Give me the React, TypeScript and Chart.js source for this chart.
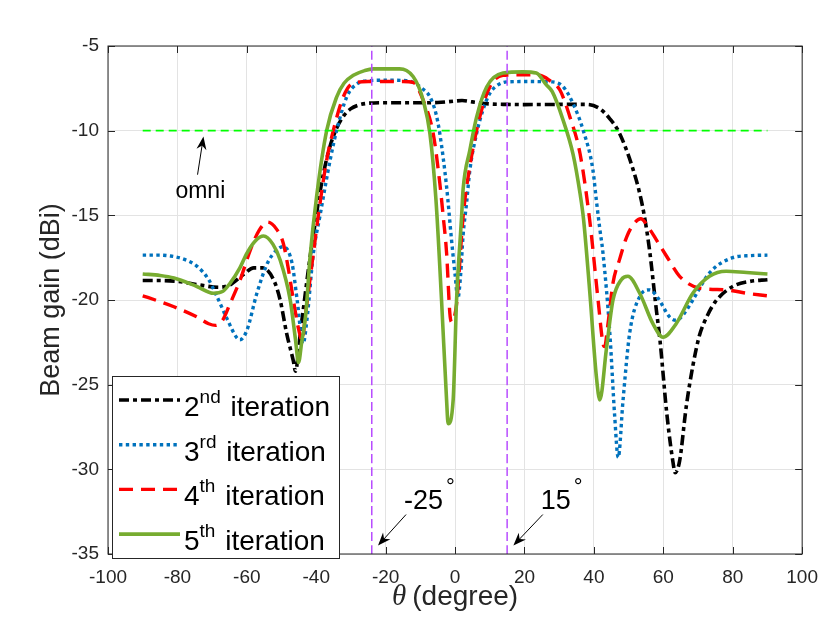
import { useEffect, useRef } from 'react'
import { Chart, ChartConfiguration, Plugin, registerables } from 'chart.js'

Chart.register(...registerables)

// beam gain (dBi) vs theta (degree)
const iter2X = [-90, -85, -80, -74, -68, -64.8, -61, -58, -55.5, -52.3, -50.4, -48.5, -46.6, -46, -44.5, -42, -40, -38, -36, -34, -32, -30, -28, -25, -20, -10, -5, 0, 2, 5, 10, 15, 20, 30, 38, 41.7, 44.6, 47, 49.4, 51.3, 53.2, 54.5, 56, 58, 59, 61, 62.8, 63.4, 64.7, 66.6, 68.5, 70.4, 72.5, 75, 80, 85, 90]
const iter2Y = [-18.85, -18.85, -18.9, -19.1, -19.25, -19.1, -18.5, -18.1, -18.1, -18.8, -20.0, -22.0, -23.6, -24.2, -21.8, -17.8, -15.0, -12.6, -10.9, -9.8, -9.1, -8.7, -8.5, -8.38, -8.35, -8.35, -8.34, -8.25, -8.22, -8.3, -8.42, -8.45, -8.46, -8.45, -8.45, -8.7, -9.3, -10.0, -11.15, -12.3, -13.7, -15.0, -17.0, -20.6, -22.3, -26.7, -29.6, -30.2, -29.5, -26.3, -23.9, -22.1, -21.0, -20.1, -19.2, -18.9, -18.8]

const iter3X = [-90, -85, -82, -78, -74.4, -71, -68.6, -65.5, -63, -62, -60, -57.1, -54, -51.4, -49.5, -47, -45.5, -43.8, -42.7, -40.8, -38.9, -36, -34.1, -31.2, -28, -25, -20, -14, -12.1, -9.5, -7.25, -5.5, -4.4, -2.45, -1, 0, 0.8, 1.6, 2.3, 3.3, 4.26, 6.2, 8, 10, 12, 14.8, 20, 28, 31.1, 34, 36.9, 39.7, 40.7, 41.7, 42.6, 44.6, 46, 47, 48.4, 50.3, 53.2, 56.1, 58.5, 61.8, 63.7, 66, 68.5, 73.3, 80, 85, 90]
const iter3Y = [-17.35, -17.35, -17.4, -17.6, -18.0, -18.8, -19.8, -21.2, -22.2, -22.35, -21.8, -19.6, -17.8, -17.05, -16.85, -17.8, -20.0, -22.6, -21.2, -17.2, -15.0, -11.74, -9.97, -8.0, -7.2, -7.05, -7.02, -7.05, -7.15, -7.5, -8.0, -9.0, -10.17, -13.3, -16.5, -18.5, -19.9, -18.5, -16.2, -14.3, -12.33, -10.17, -8.8, -7.8, -7.35, -7.12, -7.1, -7.12, -7.4, -8.4, -9.97, -12.3, -14.1, -15.8, -17.2, -22.0, -26.9, -29.3, -25.9, -21.96, -19.8, -19.4, -19.9, -21.0, -21.2, -20.8, -20.0, -18.4, -17.5, -17.38, -17.35]

const iter4X = [-90, -85, -81, -74.4, -71, -69, -67, -64.8, -61.9, -59, -56.5, -54, -51.5, -49.5, -48, -46.6, -45, -44, -43.3, -40.8, -39.4, -37, -35.1, -32.2, -29.4, -25, -15, -12.1, -9.2, -6.3, -4.4, -3.4, -2.45, -1.5, -1.0, 0.4, 1.0, 2.3, 4.26, 7.1, 10, 13.8, 20, 24.4, 27, 30.2, 33.1, 36, 38.8, 41.2, 42.6, 43.1, 44, 45.5, 47.4, 49.4, 51.5, 53.5, 56, 58, 60.9, 64.7, 70.4, 78, 84, 90]
const iter4Y = [-19.75, -20.1, -20.4, -21.0, -21.4, -21.5, -21.2, -20.2, -18.8, -17.05, -15.9, -15.4, -15.8, -16.65, -18.2, -20.0, -21.8, -22.4, -21.2, -17.2, -15.0, -11.74, -10.0, -8.0, -7.2, -7.1, -7.1, -7.15, -8.2, -10.17, -13.1, -15.1, -17.2, -20.8, -21.3, -20.3, -18.8, -15.1, -12.1, -9.2, -7.42, -6.73, -6.7, -6.73, -7.0, -7.6, -9.2, -11.35, -15.3, -20.0, -22.55, -22.75, -21.5, -19.0, -17.6, -16.3, -15.5, -15.2, -15.8, -16.45, -17.4, -18.6, -19.3, -19.4, -19.6, -19.75]

const iter5X = [-90, -85, -81, -74.4, -69.6, -67, -64.8, -62, -60, -57.5, -55.2, -52.5, -50.4, -47.5, -46, -45.1, -44.2, -43, -41.8, -39.9, -37, -34.1, -32, -29.3, -26, -23.6, -16, -14, -12.1, -10.5, -9.2, -7.25, -5.5, -3.9, -2.45, -2.0, -0.55, 0.43, 1.87, 2.3, 4.26, 6.2, 9.1, 13.8, 19.6, 23.4, 26.3, 28, 31, 34, 36, 37, 38.8, 40.7, 41.7, 43.6, 45.5, 47.9, 49.8, 53.2, 57, 59.9, 63.7, 68.5, 73.3, 78.1, 84, 90]
const iter5Y = [-18.46, -18.55, -18.7, -19.2, -19.6, -19.5, -19.0, -18.1, -17.24, -16.5, -16.22, -16.7, -17.64, -20.0, -22.3, -23.7, -22.5, -20.8, -17.5, -13.9, -10.0, -8.0, -7.2, -6.73, -6.45, -6.35, -6.35, -6.45, -6.8, -7.4, -8.2, -10.17, -14.1, -20.0, -25.9, -27.3, -25.9, -20.0, -15.1, -13.5, -11.15, -9.2, -7.42, -6.6, -6.53, -6.6, -7.3, -7.7, -9.3, -11.4, -13.7, -15.2, -19.5, -24.5, -25.9, -22.9, -20.0, -18.8, -18.6, -19.6, -21.4, -22.2, -21.4, -19.6, -18.6, -18.3, -18.38, -18.46]

const omniX = [-90, 90]
const omniY = [-10, -10]
const markerAngles = [-24, 15]
const markerLabels = ['-25', '15']

const legendNumbers = ['2', '3', '4', '5']
const legendSups = ['nd', 'rd', 'th', 'th']

const FONT = '"Liberation Sans", Arial, Helvetica, sans-serif'
const INK = '#262626'

const pts = (xs: number[], ys: number[]) => xs.map((x, i) => ({ x, y: ys[i] }))

function arrow(ctx: CanvasRenderingContext2D, x1: number, y1: number, x2: number, y2: number) {
  const ang = Math.atan2(y2 - y1, x2 - x1)
  const len = 13
  const half = 5
  ctx.beginPath()
  ctx.moveTo(x1, y1)
  ctx.lineTo(x2 - Math.cos(ang) * 8, y2 - Math.sin(ang) * 8)
  ctx.stroke()
  const bx = x2 - Math.cos(ang) * len
  const by = y2 - Math.sin(ang) * len
  const nx = -Math.sin(ang)
  const ny = Math.cos(ang)
  ctx.beginPath()
  ctx.moveTo(x2, y2)
  ctx.lineTo(bx + nx * half, by + ny * half)
  ctx.lineTo(x2 - Math.cos(ang) * 9, y2 - Math.sin(ang) * 9)
  ctx.lineTo(bx - nx * half, by - ny * half)
  ctx.closePath()
  ctx.fill()
}

const decor: Plugin<'line'> = {
  id: 'decor',
  afterDraw(chart) {
    const { ctx, chartArea: a, scales } = chart
    const xs = scales.x
    const ys = scales.y
    ctx.save()

    // box and inward ticks
    ctx.strokeStyle = INK
    ctx.lineWidth = 1
    ctx.strokeRect(a.left, a.top, a.right - a.left, a.bottom - a.top)
    ctx.beginPath()
    xs.ticks.forEach((t) => {
      const px = Math.round(xs.getPixelForValue(t.value)) + 0.5
      ctx.moveTo(px, a.bottom)
      ctx.lineTo(px, a.bottom - 7)
      ctx.moveTo(px, a.top)
      ctx.lineTo(px, a.top + 7)
    })
    ys.ticks.forEach((t) => {
      const py = Math.round(ys.getPixelForValue(t.value)) + 0.5
      ctx.moveTo(a.left, py)
      ctx.lineTo(a.left + 7, py)
      ctx.moveTo(a.right, py)
      ctx.lineTo(a.right - 7, py)
    })
    ctx.stroke()

    // axis titles
    ctx.fillStyle = INK
    ctx.save()
    ctx.translate(a.left - 49, (a.top + a.bottom) / 2)
    ctx.rotate(-Math.PI / 2)
    ctx.font = `27px ${FONT}`
    ctx.textAlign = 'center'
    ctx.textBaseline = 'alphabetic'
    ctx.fillText('Beam gain (dBi)', 0, 0)
    ctx.restore()

    const thetaFont = 'italic 29px "Liberation Serif", "DejaVu Serif", serif'
    const degFont = `28px ${FONT}`
    ctx.font = thetaFont
    const wTheta = ctx.measureText('θ').width
    ctx.font = degFont
    const wDeg = ctx.measureText('(degree)').width
    const gap = 6
    const startX = (a.left + a.right) / 2 - (wTheta + gap + wDeg) / 2
    const baseY = a.bottom + 51
    ctx.textAlign = 'left'
    ctx.textBaseline = 'alphabetic'
    ctx.font = thetaFont
    ctx.fillText('θ', startX, baseY)
    ctx.font = degFont
    ctx.fillText('(degree)', startX + wTheta + gap, baseY)

    // annotations
    ctx.fillStyle = '#000'
    ctx.strokeStyle = '#000'
    ctx.lineWidth = 1
    ctx.font = `23px ${FONT}`
    ctx.textAlign = 'center'
    ctx.textBaseline = 'middle'
    ctx.fillText('omni', xs.getPixelForValue(-73.4), ys.getPixelForValue(-13.6))
    arrow(ctx, xs.getPixelForValue(-74.2), ys.getPixelForValue(-12.6), xs.getPixelForValue(-72.5), ys.getPixelForValue(-10.35))

    const labelOffsets = [9.3, 9.7]
    markerAngles.forEach((ang, i) => {
      const lx = xs.getPixelForValue(ang + labelOffsets[i])
      const ly = ys.getPixelForValue(-31.9)
      ctx.font = `27px ${FONT}`
      ctx.textAlign = 'left'
      ctx.textBaseline = 'middle'
      ctx.fillText(markerLabels[i], lx, ly)
      const w = ctx.measureText(markerLabels[i]).width
      ctx.font = `22px ${FONT}`
      ctx.fillText('°', lx + w + 3, ly - 14)
      arrow(ctx, lx + 2, ys.getPixelForValue(-32.67), xs.getPixelForValue(ang + 1.8), ys.getPixelForValue(-34.5))
    })

    // legend
    const bx = a.left + 4
    const by = a.bottom - 178
    const bw = 227
    const bh = 182
    ctx.fillStyle = '#fff'
    ctx.fillRect(bx, by, bw, bh)
    ctx.strokeStyle = INK
    ctx.lineWidth = 1
    ctx.strokeRect(bx + 0.5, by + 0.5, bw, bh)
    const sets = chart.data.datasets.filter((d: any) => d.isSeries)
    sets.forEach((d: any, i) => {
      const ry = by + 24 + i * 44.7
      ctx.save()
      ctx.strokeStyle = d.borderColor
      ctx.lineWidth = d.borderWidth
      ctx.setLineDash(d.borderDash || [])
      ctx.beginPath()
      ctx.moveTo(bx + 7, ry)
      ctx.lineTo(bx + 68, ry)
      ctx.stroke()
      ctx.restore()
      ctx.fillStyle = '#000'
      ctx.textAlign = 'left'
      ctx.textBaseline = 'alphabetic'
      let tx = bx + 72
      const base = ry + 16
      ctx.font = `28px ${FONT}`
      ctx.fillText(legendNumbers[i], tx, base)
      tx += ctx.measureText(legendNumbers[i]).width
      ctx.font = `19px ${FONT}`
      ctx.fillText(legendSups[i], tx, base - 13)
      tx += ctx.measureText(legendSups[i]).width
      ctx.font = `28px ${FONT}`
      ctx.fillText(' iteration', tx + 2, base)
    })

    ctx.restore()
  },
}

export default function App() {
  const canvasRef = useRef<HTMLCanvasElement>(null)
  const chartRef = useRef<Chart | null>(null)

  useEffect(() => {
    if (!canvasRef.current) return
    if (chartRef.current) chartRef.current.destroy()
    const ctx = canvasRef.current.getContext('2d')
    if (!ctx) return

    const line = (data: { x: number; y: number }[], color: string, width: number, dash: number[], order: number, isSeries: boolean) => ({
      data,
      borderColor: color,
      backgroundColor: color,
      borderWidth: width,
      borderDash: dash,
      borderCapStyle: 'butt' as const,
      borderJoinStyle: 'round' as const,
      pointRadius: 0,
      fill: false,
      cubicInterpolationMode: 'monotone' as const,
      order,
      isSeries,
    })

    const config: ChartConfiguration<'line'> = {
      type: 'line',
      data: {
        datasets: [
          line(pts(iter2X, iter2Y), '#000000', 3.6, [10, 4, 4, 4], 5, true),
          line(pts(iter3X, iter3Y), '#0072BD', 3.4, [3.4, 3.4], 4, true),
          line(pts(iter4X, iter4Y), '#FF0000', 3.4, [14, 8], 3, true),
          line(pts(iter5X, iter5Y), '#77AC30', 3.6, [], 2, true),
          line(pts(omniX, omniY), '#00FF00', 1.8, [8, 5], 1, false),
          ...markerAngles.map((ang) =>
            line(pts([ang, ang], [-35, -5]), '#B84DFF', 1.5, [9, 4], 0, false)
          ),
        ] as any,
      },
      options: {
        animation: false,
        responsive: true,
        maintainAspectRatio: false,
        layout: { padding: { left: 0, right: 27, top: 46, bottom: 0 } },
        plugins: {
          legend: { display: false },
          tooltip: { enabled: false },
        },
        scales: {
          x: {
            type: 'linear',
            min: -100,
            max: 100,
            afterFit: (s) => {
              s.height = 69
            },
            ticks: {
              stepSize: 20,
              color: INK,
              padding: 12,
              font: { family: FONT, size: 19 },
              maxRotation: 0,
            },
            grid: { color: '#e3e3e3', drawTicks: false },
            border: { display: false },
          },
          y: {
            type: 'linear',
            min: -35,
            max: -5,
            afterFit: (s) => {
              s.width = 108
            },
            ticks: {
              stepSize: 5,
              color: INK,
              padding: 9,
              font: { family: FONT, size: 19 },
            },
            grid: { color: '#e3e3e3', drawTicks: false },
            border: { display: false },
          },
        },
      },
      plugins: [decor],
    }

    chartRef.current = new Chart(ctx, config)

    return () => {
      if (chartRef.current) {
        chartRef.current.destroy()
        chartRef.current = null
      }
    }
  }, [])

  return (
    <div style={{ position: 'absolute', left: 0, top: 0, width: 830, height: 623, background: '#fff' }}>
      <canvas ref={canvasRef} />
    </div>
  )
}
